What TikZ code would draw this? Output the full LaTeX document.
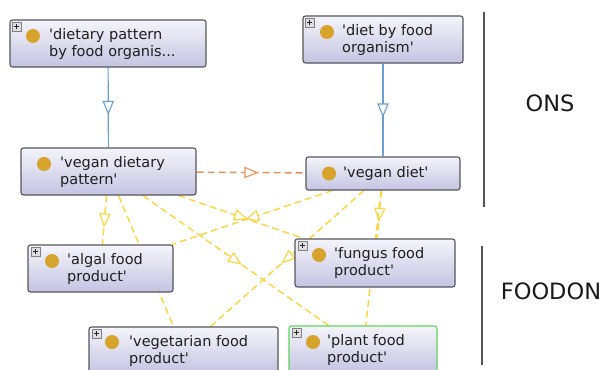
\documentclass[tikz,border=0pt]{standalone}
\usepackage{fontspec}
\newfontfamily\df{DejaVu Sans}
\usetikzlibrary{decorations.markings}
\pgfdeclarelayer{bg}
\pgfsetlayers{bg,main}
\definecolor{boxtop}{HTML}{F4F4FB}
\definecolor{boxbot}{HTML}{C4C4E2}
\definecolor{boxline}{HTML}{55555C}
\definecolor{gold}{HTML}{D6A42C}
\definecolor{isa}{HTML}{6A9FD2}
\definecolor{yel}{HTML}{FFD43A}
\definecolor{ora}{HTML}{E8925A}
\definecolor{plantg}{HTML}{5CD65C}
\definecolor{sepline}{HTML}{555555}
\tikzset{
  obox/.style={draw=boxline, line width=1.1pt, rounded corners=2.5pt,
    top color=boxtop, bottom color=boxbot, inner sep=0pt},
  otext/.style={anchor=west, inner sep=0pt, align=left, text=black!88,
    font=\df\fontsize{14.5}{17}\selectfont},
  ind/.style={circle, fill=gold, minimum size=14pt, inner sep=0pt},
  plusbox/.style={draw=gray, fill=blue!8!gray!25, line width=0.7pt,
    minimum size=9pt, inner sep=0pt, anchor=north west,
    path picture={\draw[black!85, line width=0.9pt]
      ([xshift=-2.5pt]path picture bounding box.center) -- ([xshift=2.5pt]path picture bounding box.center)
      ([yshift=-2.5pt]path picture bounding box.center) -- ([yshift=2.5pt]path picture bounding box.center);}},
  midtri/.style={postaction={decorate, decoration={markings,
    mark=at position 0.5 with {\draw[solid, fill=white, line width=1.1pt, draw=#1]
      (-6pt,-5pt) -- (6pt,0pt) -- (-6pt,5pt) -- cycle;}}}},
  isaedge/.style={draw=isa, line width=1.2pt, midtri=isa},
  yedge/.style={draw=yel, line width=1.4pt, dash pattern=on 7pt off 4pt, midtri=yel},
  oedge/.style={draw=ora, line width=1.4pt, dash pattern=on 7pt off 4pt, midtri=ora},
  sep/.style={draw=sepline, line width=2.5pt},
  grp/.style={font=\df\fontsize{22.5}{26}\selectfont, text=black!90, inner sep=0pt}
}
\begin{document}
\begin{tikzpicture}[x=1pt,y=-1pt]
\useasboundingbox (0,0) rectangle (604,369);
% boxes
\node[obox, minimum width=196pt, minimum height=47pt] (b1) at (108,43.5) {};
\node[obox, minimum width=175pt, minimum height=47pt] (b2) at (108.5,171.5) {};
\node[obox, minimum width=160pt, minimum height=47pt] (b3) at (383,39.5) {};
\node[obox, minimum width=154pt, minimum height=33pt] (b4) at (383,173.5) {};
\node[obox, minimum width=145pt, minimum height=47pt] (b5) at (100.5,268.5) {};
\node[obox, minimum width=189pt, minimum height=47pt] (b6) at (183.5,350.5) {};
\node[obox, minimum width=160pt, minimum height=48pt] (b7) at (375,263) {};
\node[obox, draw=plantg, minimum width=148pt, minimum height=47pt] (b8) at (363,349.5) {};
% texts
\node[otext] (t1) at (49,43.5) {'dietary pattern\\by food organis...};
\node[otext] (t2) at (60,171.5) {'vegan dietary\\pattern'};
\node[otext] (t3) at (342,39.5) {'diet by food\\organism'};
\node[otext] (t4) at (343,173.5) {'vegan diet'};
\node[otext] (t5) at (67,268.5) {'algal food\\product'};
\node[otext] (t6) at (129,350.5) {'vegetarian food\\product'};
\node[otext] (t7) at (334,263) {'fungus food\\product'};
\node[otext] (t8) at (327,349.5) {'plant food\\product'};
% individual icons
\node[ind] (c1) at (33,36) {};
\node[ind] (c2) at (44,164) {};
\node[ind] (c3) at (327,32) {};
\node[ind] (c4) at (329,173.5) {};
\node[ind] (c5) at (52,261) {};
\node[ind] (c6) at (112,342) {};
\node[ind] (c7) at (319,255) {};
\node[ind] (c8) at (313,342) {};
% expand icons
\node[plusbox] (p1) at (12,22) {};
\node[plusbox] (p3) at (305,18) {};
\node[plusbox] (p5) at (31,247) {};
\node[plusbox] (p6) at (92,329) {};
\node[plusbox] (p7) at (298,241) {};
\node[plusbox] (p8) at (292,328) {};
% group labels and separators
\coordinate (s1a) at (484,12);
\coordinate (s1b) at (484,207);
\coordinate (s2a) at (482,246);
\coordinate (s2b) at (482,365);
\draw[sep] (s1a) -- (s1b);
\draw[sep] (s2a) -- (s2b);
\node[grp] (ons) at (550,103.5) {ONS};
\node[grp] (foodon) at (551,291) {FOODON};
% connectors
\begin{pgfonlayer}{bg}
\draw[isaedge] (b1) -- (b2);
\draw[isaedge] (b3) -- (b4);
\draw[oedge] (b2) -- (b4);
\draw[yedge] (b2) -- (b5);
\draw[yedge] (b2) -- (b6);
\draw[yedge] (b2) -- (b7);
\draw[yedge] (b2) -- (b8);
\draw[yedge] (b4) -- (b5);
\draw[yedge] (b4) -- (b6);
\draw[yedge] (b4) -- (b7);
\draw[yedge] (b4) -- (b8);
\end{pgfonlayer}
\end{tikzpicture}
\end{document}
